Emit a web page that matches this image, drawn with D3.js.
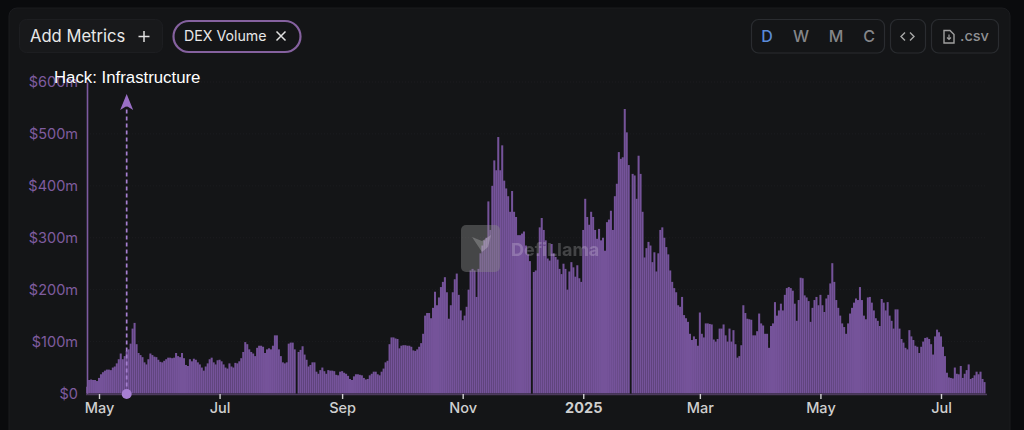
<!DOCTYPE html>
<html><head><meta charset="utf-8">
<script src="https://cdn.jsdelivr.net/npm/d3@7"></script>
<style>html,body{margin:0;padding:0;background:#0a0b0d;overflow:hidden}svg{display:block;font-family:Inter,"Noto Sans",sans-serif}</style>
</head><body><div id="c"></div>
<script>
const startDate = "2024-04-25";
const dexVolume = [
13,26,27,26,26,24,30,37,41,44,46,46,45,50,52,58,66,77,66,72,82,85,96,125,136,95,78,74,70,60,56,66,77,74,71,70,65,61,60,63,66,69,69,68,69,78,72,70,78,68,55,53,66,62,67,65,60,56,50,44,52,58,66,69,60,56,64,65,62,56,50,48,58,52,50,
59,58,62,68,80,99,95,85,80,77,72,88,92,92,90,78,85,87,85,92,112,112,85,72,60,58,60,96,98,98,85,0,80,84,91,75,65,52,55,60,60,42,38,45,50,43,38,45,44,44,43,36,35,42,43,40,38,34,28,26,33,37,37,36,35,30,27,28,35,38,42,42,37,35,42,48,
60,63,95,108,108,106,105,87,92,93,93,92,92,90,83,82,85,90,97,115,150,155,155,145,165,196,170,185,205,215,224,195,144,170,195,220,231,190,160,141,150,167,200,237,240,237,186,240,270,285,295,300,370,315,400,449,430,494,430,478,410,395,380,350,390,350,340,305,305,308,312,285,268,255,0,234,
237,270,320,338,315,295,260,256,288,270,263,258,240,230,250,240,200,235,253,243,225,247,222,215,315,375,340,325,350,340,315,298,317,295,300,275,330,335,352,315,380,404,465,452,455,548,503,440,0,423,420,375,458,423,350,262,280,292,285,253,272,235,270,315,320,300,282,268,237,215,203,195,170,167,186,151,
145,138,115,103,110,105,92,156,115,108,135,135,134,133,104,100,105,125,125,133,112,100,125,100,122,95,69,72,93,170,155,144,143,142,112,112,120,154,135,131,115,115,88,130,135,176,150,160,173,160,190,203,205,203,198,173,140,180,223,222,189,185,178,138,165,180,186,170,190,170,157,183,190,212,251,215,
180,165,150,135,128,115,135,154,165,175,183,180,205,180,150,143,185,186,175,160,145,140,130,182,175,160,176,150,140,125,162,162,125,105,98,88,85,122,110,103,92,90,78,90,100,107,108,105,95,75,110,123,118,110,90,72,40,31,30,29,50,38,37,53,30,38,45,56,28,30,35,42,37,42,28,22
];
const yTicks = [0,100,200,300,400,500,600];
const xTickDates = ["2024-05-01","2024-07-01","2024-09-01","2024-11-01","2025-01-01","2025-03-01","2025-05-01","2025-07-01"];
const xTickLabels = ["May","Jul","Sep","Nov","2025","Mar","May","Jul"];
const hackDate = "2024-05-15";
const hackLabel = "Hack: Infrastructure";

const parse = d3.utcParse("%Y-%m-%d");
const day0 = parse(startDate);
const points = dexVolume.map((v,i)=>({date:d3.utcDay.offset(day0,i),v}));
const W=1024,H=430;
const svg=d3.select("#c").append("svg").attr("width",W).attr("height",H);
const defs=svg.append("defs");
defs.append("filter").attr("id","soft").attr("x","-2%").attr("y","-2%").attr("width","104%").attr("height","104%")
  .append("feGaussianBlur").attr("stdDeviation",0.4);

svg.append("rect").attr("x",9).attr("y",8).attr("width",1001).attr("height",430).attr("rx",8)
  .attr("fill","#141517").attr("stroke","#1b1c1f");

const x=d3.scaleUtc().domain([parse("2024-05-01"),parse("2025-07-01")]).range([99,941]);
const y=d3.scaleLinear().domain([0,600]).range([393.5,82]);
const bw=2.02;

// grid
svg.append("g").selectAll("line").data(yTicks.slice(1)).join("line")
  .attr("x1",87).attr("x2",987).attr("y1",d=>y(d)).attr("y2",d=>y(d))
  .attr("stroke","#1c1d20").attr("stroke-dasharray","1 2");

// bars
svg.append("g").attr("filter","url(#soft)").selectAll("rect").data(points).join("rect")
  .attr("x",d=>x(d.date)-bw/2).attr("width",bw)
  .attr("y",d=>y(d.v)).attr("height",d=>y(0)-y(d.v))
  .attr("fill","#75539a");

// axes
const yAxis=d3.axisLeft(y).tickValues(yTicks).tickSize(0).tickPadding(9).tickFormat(d=>"$"+d+(d?"m":""));
const gy=svg.append("g").attr("transform","translate(87,0)").call(yAxis);
gy.select(".domain").attr("stroke","#7d5aa0").attr("stroke-width",1.6);
gy.selectAll("text").attr("fill","#7f5c9f").attr("font-size",14.5).attr("font-family","Inter,sans-serif");

const xAxis=d3.axisBottom(x).tickValues(xTickDates.map(parse)).tickSize(5).tickPadding(4)
  .tickFormat((d,i)=>xTickLabels[i]);
const gx=svg.append("g").attr("transform","translate(0,394)").call(xAxis);
gx.select(".domain").attr("d","M86,0.5H987").attr("stroke","#4c3b5c").attr("stroke-width",1.4);
gx.selectAll("line").attr("stroke","#d0d0d0").attr("stroke-width",1.4);
gx.selectAll("text").attr("fill","#cfcfcf").attr("font-size",14.5).attr("font-family","Inter,sans-serif")
  .attr("font-weight",(d,i)=>xTickLabels[i]==="2025"?700:500);

// watermark
const wm=svg.append("g");
wm.append("rect").attr("x",461).attr("y",225).attr("width",39).attr("height",47).attr("rx",5)
  .attr("fill","#8a8a8a").attr("opacity",.42);
wm.append("path").attr("d","M472,237 L482,241 L491,235 L488,247 L482,252 L478,246 Z").attr("fill","#ffffff").attr("opacity",.22);
wm.append("text").attr("x",511).attr("y",256).text("DefiLlama")
  .attr("fill","#ffffff").attr("opacity",.2).attr("font-size",18).attr("font-weight",700);

// hack marker
const hx=x(parse(hackDate));
svg.append("line").attr("x1",hx).attr("x2",hx).attr("y1",y(0)).attr("y2",104)
  .attr("stroke","#a67fd0").attr("stroke-width",1.7).attr("stroke-dasharray","4 3");
svg.append("path").attr("d",`M${hx},94 L${hx+6.5},110 L${hx},106 L${hx-6.5},110 Z`).attr("fill","#9a6fc6");
svg.append("circle").attr("cx",hx).attr("cy",394).attr("r",5).attr("fill","#a77fd3");
svg.append("text").attr("x",54).attr("y",83).text(hackLabel).attr("fill","#ffffff")
  .attr("font-size",16.8).attr("font-family","'Liberation Sans',Arial,sans-serif");

// controls
function btn(x0,y0,w,h,r,st,sw,fill){return svg.append("rect").attr("x",x0).attr("y",y0).attr("width",w).attr("height",h).attr("rx",r).attr("fill",fill||"none").attr("stroke",st).attr("stroke-width",sw||1);}
btn(19.5,19.5,143,33,7,"#1d1e21",1,"#18191b");
svg.append("text").attr("x",30).attr("y",42).text("Add Metrics").attr("fill","#e8e8e8").attr("font-size",16.6).attr("font-weight",400);
svg.append("path").attr("d","M144,31V42M138.5,36.5H149.5").attr("stroke","#e0e0e0").attr("stroke-width",1.5);
btn(173.5,21,127,31,15.5,"#85619f",2.2);
svg.append("text").attr("x",184).attr("y",41).text("DEX Volume").attr("fill","#e8e8e8").attr("font-size",14.2).attr("font-weight",400);
svg.append("path").attr("d","M276.5,31.5L285.5,40.5M285.5,31.5L276.5,40.5").attr("stroke","#e0e0e0").attr("stroke-width",1.5);
btn(751.5,19.5,133,33.5,7,"#2a2c30",1.2);
btn(890.5,19.5,35,33.5,7,"#2a2c30",1.2);
btn(931.5,19.5,67,33.5,7,"#2a2c30",1.2);
const periods=["D","W","M","C"],periodX=[767,801,836,869];
svg.append("g").selectAll("text").data(periods).join("text")
  .attr("x",(d,i)=>periodX[i]).attr("y",42).attr("text-anchor","middle").text(d=>d)
  .attr("font-size",16).attr("font-weight",500).attr("fill",d=>d==="D"?"#5a8ad8":"#858689");
svg.append("path").attr("d","M905,32.5l-4,4l4,4M910,32.5l4,4l-4,4").attr("fill","none").attr("stroke","#a8a8a8").attr("stroke-width",1.4);
svg.append("path").attr("d","M944,30.5h6l4,4v8.5h-10z").attr("fill","none").attr("stroke","#a0a0a0").attr("stroke-width",1.4);
svg.append("path").attr("d","M949,34.5v5m-2,-2l2,2l2,-2").attr("fill","none").attr("stroke","#a0a0a0").attr("stroke-width",1.2);
svg.append("text").attr("x",960).attr("y",41).text(".csv").attr("fill","#8f9093").attr("font-size",14.5).attr("font-weight",500);
</script></body></html>
